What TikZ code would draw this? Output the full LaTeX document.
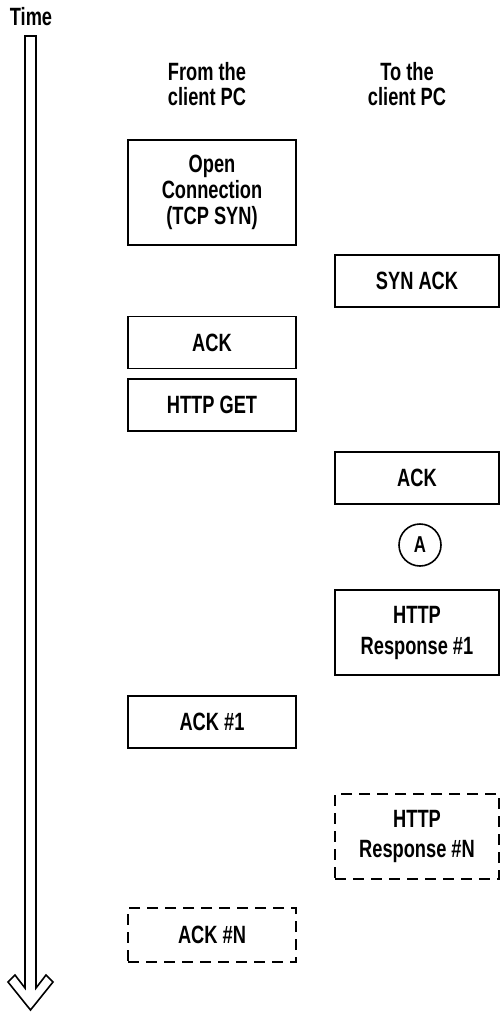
\documentclass[tikz,border=0pt]{standalone}
\usepackage{fontspec}
\setmainfont{Liberation Sans}[FakeStretch=0.73]
\begin{document}
\begin{tikzpicture}[x=1pt,y=-1pt]
		\tikzstyle{every node}=[font=\fontsize{25}{26}\selectfont\bfseries, align=center, inner sep=0pt]
		\tikzstyle{msgbox}=[draw, line width=1.6pt, minimum height=52pt]
		\tikzstyle{leftbox}=[msgbox, minimum width=168pt]
		\tikzstyle{rightbox}=[msgbox, minimum width=164pt]
		\tikzstyle{later}=[dash pattern=on 11pt off 7pt]
		\useasboundingbox (0,0) rectangle (501,1013);
		
		% Time axis
		\node (time) at (31,17) {Time};
		\draw[line width=1.6pt, line join=miter] (25,36) -- (25,988) -- (15,975) -- (8,982) -- (30.5,1010)
			-- (53,982) -- (46,975) -- (36,988) -- (36,36) -- cycle;
		
		% Headers
		\node[font=\fontsize{25}{25}\selectfont\bfseries] (from) at (207,84) {From the\\client PC};
		\node[font=\fontsize{25}{25}\selectfont\bfseries] (to) at (407,84) {To the\\client PC};
		
		% From the client PC
		\node[leftbox, minimum height=105pt] (open) at (212,192.5) {Open\\Connection\\(TCP SYN)};
		\node[leftbox] (ack) at (212,342.5) {ACK};
		\node[leftbox] (get) at (212,405) {HTTP GET};
		\node[leftbox] (ackone) at (212,722) {ACK \#1};
		\node[leftbox, later, minimum height=54pt] (ackn) at (212,935) {ACK \#N};
		
		% To the client PC
		\node[rightbox] (synack) at (417,281) {SYN ACK};
		\node[rightbox] (ackr) at (417,478) {ACK};
		\node[circle, draw, line width=1.6pt, minimum size=42pt, font=\fontsize{23}{24}\selectfont\bfseries] (mark) at (420,545) {A};
		\node[rightbox, minimum height=85pt, font=\fontsize{25}{31}\selectfont\bfseries] (respone) at (417,632.5) {HTTP\\Response \#1};
		\node[rightbox, later, minimum height=85pt, font=\fontsize{25}{30}\selectfont\bfseries] (respn) at (417,836.5) {HTTP\\Response \#N};
	\end{tikzpicture}
\end{document}
